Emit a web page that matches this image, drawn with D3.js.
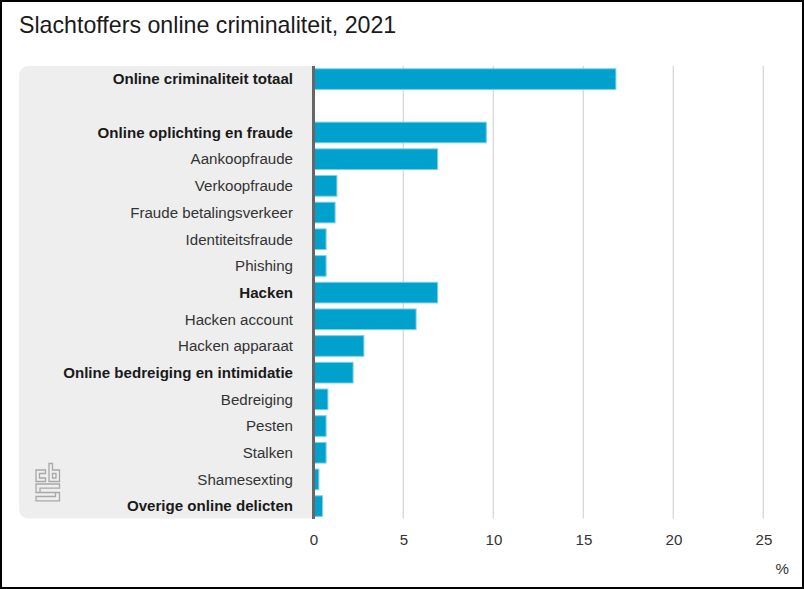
<!DOCTYPE html>
<html>
<head>
<meta charset="utf-8">
<script src="https://cdn.jsdelivr.net/npm/d3@7"></script>
<style>
  html, body { margin: 0; padding: 0; background: #fff; }
  svg { display: block; font-family: "Liberation Sans", Arial, sans-serif; }
</style>
</head>
<body>
<div class="canvas"></div>
<script>
// data
const categories = [
  "Online criminaliteit totaal", "",
  "Online oplichting en fraude", "Aankoopfraude", "Verkoopfraude",
  "Fraude betalingsverkeer", "Identiteitsfraude", "Phishing",
  "Hacken", "Hacken account", "Hacken apparaat",
  "Online bedreiging en intimidatie", "Bedreiging", "Pesten", "Stalken",
  "Shamesexting", "Overige online delicten"
];
const values = [16.8, null, 9.6, 6.9, 1.3, 1.2, 0.7, 0.7, 6.9, 5.7, 2.8, 2.2, 0.8, 0.7, 0.7, 0.3, 0.5];
const boldCategories = [
  "Online criminaliteit totaal", "Online oplichting en fraude", "Hacken",
  "Online bedreiging en intimidatie", "Overige online delicten"
];
const xTicks = [0, 5, 10, 15, 20, 25];

const width = 804, height = 589;
const plot = { left: 313.5, right: 763.5, top: 66, bottom: 518.5 };

const svg = d3.select(".canvas").append("svg")
  .attr("width", width)
  .attr("height", height);

const x = d3.scaleLinear().domain([0, 25]).range([plot.left, plot.right]);
const y = d3.scaleBand().domain(d3.range(categories.length))
  .range([plot.top + 0.7, plot.bottom]).paddingInner(0.225).paddingOuter(0.077);

// grey label panel, rounded on the left only
const r = 9;
svg.append("path")
  .attr("fill", "#eeeeee")
  .attr("d", `M${plot.left},${plot.top}H${19 + r}a${r},${r} 0 0 0 -${r},${r}V${plot.bottom - r}a${r},${r} 0 0 0 ${r},${r}H${plot.left}Z`);

// gridlines
svg.append("g").selectAll("line")
  .data(xTicks.slice(1))
  .join("line")
  .attr("x1", d => x(d) - 0.2).attr("x2", d => x(d) - 0.2)
  .attr("y1", plot.top).attr("y2", plot.bottom)
  .attr("stroke", "#d8d8d8")
  .attr("stroke-width", 1.3);

// bars
svg.append("g").selectAll("rect")
  .data(values.map((v, i) => ({ v, i })).filter(d => d.v !== null))
  .join("rect")
  .attr("x", x(0))
  .attr("y", d => y(d.i))
  .attr("width", d => x(d.v) - x(0))
  .attr("height", y.bandwidth())
  .attr("fill", "#00a1cd")
  .attr("stroke", "#7fd0e6")
  .attr("stroke-width", 1);

// baseline
svg.append("line")
  .attr("x1", x(0)).attr("x2", x(0))
  .attr("y1", plot.top).attr("y2", plot.bottom + 0.5)
  .attr("stroke", "#666666")
  .attr("stroke-width", 3);

// category labels
svg.append("g").selectAll("text")
  .data(categories)
  .join("text")
  .attr("x", 293)
  .attr("y", (d, i) => y(i) + y.bandwidth() / 2)
  .attr("dy", "0.35em")
  .attr("text-anchor", "end")
  .attr("font-size", 15.1)
  .attr("font-weight", d => boldCategories.includes(d) ? "bold" : "normal")
  .attr("fill", d => boldCategories.includes(d) ? "#1a1a1a" : "#333333")
  .text(d => d);

// x axis labels
const xAxis = d3.axisBottom(x).tickValues(xTicks).tickSize(0).tickPadding(0);
const axisG = svg.append("g")
  .attr("transform", `translate(0,${plot.bottom})`)
  .call(xAxis);
axisG.select(".domain").remove();
axisG.selectAll("text")
  .attr("y", 26)
  .attr("dy", 0)
  .attr("font-family", "Liberation Sans, Arial, sans-serif")
  .attr("font-size", 15.1)
  .attr("fill", "#333333");

svg.append("text")
  .attr("x", 789).attr("y", 574)
  .attr("text-anchor", "end")
  .attr("font-size", 15.1)
  .attr("fill", "#333333")
  .text("%");

// title
svg.append("text")
  .attr("x", 19).attr("y", 33)
  .attr("font-size", 23.2)
  .attr("fill", "#1a1a1a")
  .text("Slachtoffers online criminaliteit, 2021");

// cbs logo
const logo = svg.append("g")
  .attr("transform", "translate(35.5,463)")
  .attr("fill", "none")
  .attr("stroke", "#a8a8a8")
  .attr("stroke-width", 1.3);
logo.append("path").attr("d", "M10,7H0.5V18.5H10V15H4V10.5H10Z");
logo.append("path").attr("d", "M13.5,0.5V18.5H24V7H17V0.5ZM17,10.5H20.5V15H17Z");
logo.append("path").attr("d", "M24,21H0.5V29.5H20V33.5H0.5V37.8H24V29.5H4.5V25.2H24Z");

// outer border
svg.append("rect")
  .attr("x", 1).attr("y", 1)
  .attr("width", width - 2).attr("height", height - 2)
  .attr("fill", "none")
  .attr("stroke", "#000")
  .attr("stroke-width", 2);
</script>
</body>
</html>
